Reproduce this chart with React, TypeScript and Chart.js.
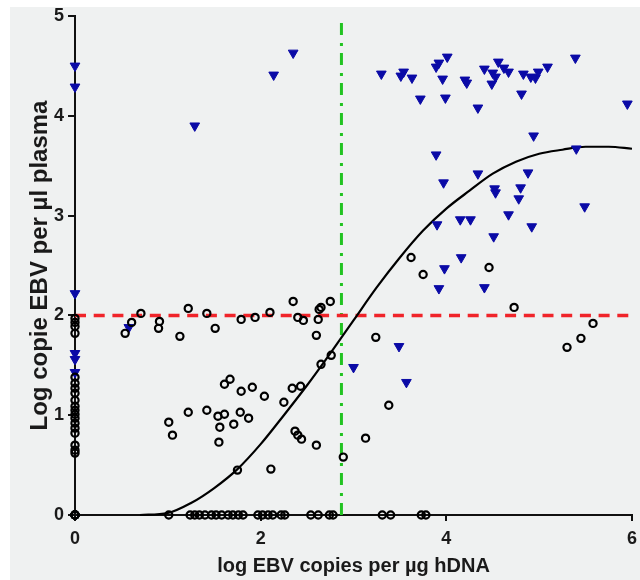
import React, { useEffect, useRef } from "react";
import { Chart, registerables } from "chart.js";

Chart.register(...registerables);

// Blue triangles (x: log EBV copies per µg hDNA, y: log copie EBV per µl plasma)
const triX = [
  0, 0, 0, 0, 0, 0, 0.58, 1.29, 2.14, 2.35,
  3.3, 3.51, 3.54, 3.63, 3.72, 3.89, 3.92, 4.01, 3.96, 3.99,
  3.89, 3.97, 4.2, 4.22, 4.34, 4.34, 4.41, 4.5, 4.56, 4.62,
  4.67, 4.53, 4.49, 4.52, 4.53, 4.83, 4.91, 4.96, 4.99, 5.09,
  4.81, 4.94, 4.88, 4.8, 4.78, 5.39, 5.4, 5.95, 5.49, 3.9,
  4.15, 4.26, 4.67, 4.92, 4.51, 4.16, 3.98, 3.92, 4.41, 3.49,
  3.0, 3.57,
];
const triY = [
  4.5, 4.29, 2.22, 1.62, 1.56, 1.43, 1.88, 3.9, 4.41, 4.63,
  4.42, 4.4, 4.44, 4.38, 4.17, 4.49, 4.53, 4.59, 4.37, 4.18,
  3.61, 3.33, 4.36, 4.33, 4.08, 3.42, 4.47, 4.43, 4.54, 4.48,
  4.44, 4.39, 4.32, 3.27, 3.23, 4.42, 4.39, 4.38, 4.44, 4.49,
  4.22, 3.8, 3.43, 3.28, 3.17, 4.58, 3.67, 4.12, 3.09, 2.91,
  2.96, 2.96, 3.01, 2.89, 2.79, 2.58, 2.47, 2.27, 2.28, 1.69,
  1.48, 1.33,
];

// Open circles
const circX = [
  // on the y axis
  0, 0, 0, 0, 0, 0, 0, 0, 0, 0, 0, 0, 0, 0, 0, 0, 0, 0, 0,
  0, 0, 0, 0, 0, 0,
  // near the 2.0 line
  0.54, 0.61, 0.71, 0.91, 0.9, 1.13, 1.22, 1.42, 1.51, 1.79, 1.94,
  2.1, 2.35, 2.4, 2.46, 2.63, 2.65, 2.75, 2.62, 2.6,
  // middle cloud
  2.76, 2.65, 3.24, 3.38, 3.13, 2.89, 2.6, 2.37, 2.4, 2.44,
  2.25, 2.34, 2.43, 2.04, 1.91, 1.79, 1.61, 1.67, 1.22, 1.42,
  1.54, 1.61, 1.78, 1.87, 1.56, 1.71, 1.55, 1.01, 1.05, 1.75, 2.11,
  // right side
  3.62, 3.75, 4.46, 4.73, 5.58, 5.45, 5.3,
  // on the x axis
  1.01, 1.24, 1.29, 1.34, 1.4, 1.47, 1.52, 1.58, 1.65, 1.7, 1.76, 1.81,
  1.97, 2.02, 2.08, 2.13, 2.22, 2.26, 2.54, 2.62, 2.74, 2.78,
  3.31, 3.4, 3.73, 3.78,
];
const circY = [
  1.97, 1.93, 1.89, 1.82, 1.38, 1.32, 1.27, 1.22, 1.15, 1.09, 1.05, 1.01,
  0.97, 0.92, 0.87, 0.82, 0.7, 0.65, 0.62,
  0, 0, 0, 0, 0, 0,
  1.82, 1.93, 2.02, 1.94, 1.87, 1.79, 2.07, 2.02, 1.87, 1.96, 1.98,
  2.03, 2.14, 1.98, 1.95, 2.06, 2.08, 2.14, 1.96, 1.8,
  1.6, 1.51, 1.78, 1.1, 0.77, 0.58, 0.7, 0.84, 0.8, 0.76,
  1.13, 1.27, 1.29, 1.19, 1.28, 1.24, 1.31, 1.36, 1.03, 1.05,
  0.99, 1.01, 1.03, 0.97, 0.88, 0.91, 0.73, 0.93, 0.8, 0.45, 0.46,
  2.58, 2.41, 2.48, 2.08, 1.92, 1.77, 1.68,
  0, 0, 0, 0, 0, 0, 0, 0, 0, 0, 0, 0,
  0, 0, 0, 0, 0, 0, 0, 0, 0, 0,
  0, 0, 0, 0,
];

// Fitted curve
const curveX = [0.7, 1.0, 1.25, 1.5, 1.75, 2.0, 2.25, 2.5, 2.75, 3.0, 3.25, 3.5, 3.75, 4.0, 4.25, 4.5, 4.75, 5.0, 5.25, 5.5, 5.75, 6.0];
const curveY = [0, 0.02, 0.12, 0.27, 0.46, 0.71, 1.0, 1.3, 1.62, 1.95, 2.28, 2.58, 2.85, 3.07, 3.25, 3.42, 3.54, 3.62, 3.66, 3.69, 3.69, 3.67];

// Cut-off lines
const plasmaCutoff = 2;
const dnaCutoff = 2.87;

const xTicks = [0, 2, 4, 6];
const yTicks = [0, 1, 2, 3, 4, 5];

const toPts = (xs: number[], ys: number[]) => xs.map((x, i) => ({ x, y: ys[i] }));

export default function App() {
  const ref = useRef<HTMLCanvasElement | null>(null);

  useEffect(() => {
    if (!ref.current) return;
    const fontFamily = "'Liberation Sans', Arial, sans-serif";
    const chart = new Chart(ref.current, {
      type: "scatter",
      data: {
        datasets: [
          {
            label: "circles",
            data: toPts(circX, circY),
            pointStyle: "circle",
            pointRadius: 3.6,
            pointBorderWidth: 2.2,
            borderColor: "#000000",
            backgroundColor: "rgba(0,0,0,0)",
            clip: false,
            order: 1,
          },
          {
            label: "triangles",
            data: toPts(triX, triY),
            pointStyle: "triangle",
            rotation: 180,
            pointRadius: 5.6,
            pointBorderWidth: 1,
            borderColor: "#0a0aa6",
            backgroundColor: "#0a0aa6",
            clip: false,
            order: 2,
          },
          {
            label: "curve",
            type: "line",
            data: toPts(curveX, curveY),
            borderColor: "#000000",
            borderWidth: 2.2,
            pointRadius: 0,
            cubicInterpolationMode: "monotone",
            fill: false,
            clip: false,
            order: 3,
          },
          {
            label: "plasma",
            type: "line",
            data: [
              { x: xTicks[0], y: plasmaCutoff },
              { x: xTicks[xTicks.length - 1], y: plasmaCutoff },
            ],
            borderColor: "#f0242a",
            borderWidth: 3.5,
            borderDash: [11, 7.7],
            pointRadius: 0,
            fill: false,
            clip: false,
            order: 4,
          },
          {
            label: "dna",
            type: "line",
            data: [
              { x: dnaCutoff, y: yTicks[0] },
              { x: dnaCutoff, y: yTicks[yTicks.length - 1] },
            ],
            borderColor: "#22c322",
            borderWidth: 3,
            borderDash: [12, 7, 3, 8],
            pointRadius: 0,
            fill: false,
            clip: false,
            order: 5,
          },
        ],
      },
      options: {
        animation: false,
        responsive: false,
        devicePixelRatio: 1,
        layout: { padding: { left: 0, top: 16, right: 8, bottom: 0 } },
        plugins: { legend: { display: false }, tooltip: { enabled: false } },
        scales: {
          x: {
            type: "linear",
            min: xTicks[0],
            max: xTicks[xTicks.length - 1],
            afterBuildTicks: (s: any) => {
              s.ticks = xTicks.map((v) => ({ value: v }));
            },
            afterFit: (s: any) => {
              s.height = 65;
              s.paddingLeft = 0;
              s.paddingRight = 0;
            },
            border: { display: true, color: "#111", width: 2 },
            grid: { display: true, drawOnChartArea: false, drawTicks: true, tickLength: 6, color: "#111", lineWidth: 2 },
            ticks: { color: "#1a1a1a", padding: 7, font: { family: fontFamily, size: 18, weight: "bold" } },
            title: {
              display: true,
              text: "log EBV copies per µg hDNA",
              color: "#1a1a1a",
              padding: { top: 0, bottom: 2 },
              font: { family: fontFamily, size: 20, weight: "bold" },
            },
          },
          y: {
            type: "linear",
            min: yTicks[0],
            max: yTicks[yTicks.length - 1],
            afterBuildTicks: (s: any) => {
              s.ticks = yTicks.map((v) => ({ value: v }));
            },
            afterFit: (s: any) => {
              s.width = 75;
              s.paddingTop = 0;
              s.paddingBottom = 0;
            },
            border: { display: true, color: "#111", width: 2 },
            grid: { display: true, drawOnChartArea: false, drawTicks: true, tickLength: 7, color: "#111", lineWidth: 2 },
            ticks: { color: "#1a1a1a", padding: 4, font: { family: fontFamily, size: 18, weight: "bold" } },
            title: {
              display: true,
              text: "Log copie EBV per µl plasma",
              color: "#1a1a1a",
              padding: { top: 26, bottom: 0 },
              font: { family: fontFamily, size: 24, weight: "bold" },
            },
          },
        },
      },
    });
    return () => chart.destroy();
  }, []);

  return (
    <div style={{ position: "absolute", left: 0, top: 0, width: 640, height: 580, background: "#ffffff" }}>
      <div style={{ position: "absolute", left: 10, top: 7, right: 0, bottom: 0, background: "#eff1f1" }} />
      <canvas ref={ref} width={640} height={580} style={{ position: "absolute", left: 0, top: 0, width: 640, height: 580 }} />
    </div>
  );
}
